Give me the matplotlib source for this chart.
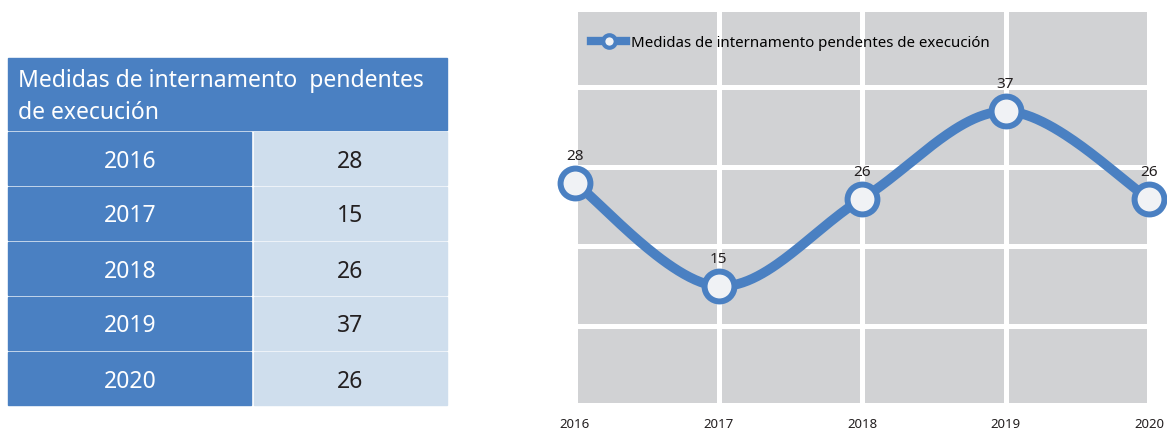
import matplotlib.pyplot as plt
import numpy as np
from matplotlib.lines import Line2D
from matplotlib.patches import Rectangle

years = [2016, 2017, 2018, 2019, 2020]
values = [28, 15, 26, 37, 26]
title = 'Medidas de internamento  pendentes\nde execución'
legend_label = 'Medidas de internamento pendentes de execución'

blue = '#4a80c2'
light = '#cfdeed'
gray = '#d1d2d4'

plt.rcParams['font.family'] = ['Noto Sans', 'DejaVu Sans']

fig = plt.figure(figsize=(11.67, 4.30), dpi=100)

# table on the left, drawn in pixel coordinates
tab = fig.add_axes([0, 0, 1, 1])
tab.set_xlim(0, 1167)
tab.set_ylim(430, 0)
tab.axis('off')
tab.add_patch(Rectangle((8, 58), 439, 72, color=blue))
tab.text(18, 97, title, color='white', fontsize=16.5, va='center', ha='left', linespacing=1.4)
row_h = 55
for i, (yr, v) in enumerate(zip(years, values)):
    y0 = 132 + i * row_h
    tab.add_patch(Rectangle((8, y0), 243, row_h - 2.5, color=blue))
    tab.add_patch(Rectangle((254, y0), 193, row_h - 2.5, color=light))
    tab.text(130, y0 + row_h / 2 + 2, str(yr), color='white', fontsize=16.5, ha='center', va='center')
    tab.text(350, y0 + row_h / 2 + 2, str(v), color='#231f20', fontsize=16.5, ha='center', va='center')

# line chart on the right
ax = fig.add_axes([575 / 1167, 27 / 430, 574 / 1167, 391 / 430])
ax.set_facecolor(gray)
for s in ax.spines.values():
    s.set_visible(False)
ax.set_xlim(years[0], years[-1])
ax.set_ylim(0.3, 49.5)
ax.set_xticks(years)
ax.set_yticks([10, 20, 30, 40])
ax.grid(True, color='white', lw=3.6)
ax.set_axisbelow(True)
ax.tick_params(length=0, labelleft=False, pad=11, labelsize=9.5, labelcolor='#231f20')

# smoothed line (bezier through the points, like a spreadsheet smooth line)
x = np.array(years, dtype=float)
y = np.array(values, dtype=float)
px = np.concatenate([[x[0]], x, [x[-1]]])
py = np.concatenate([[y[0]], y, [y[-1]]])
t = np.linspace(0, 1, 60)
cx, cy = [], []
for i in range(len(x) - 1):
    p0 = np.array([x[i], y[i]])
    p3 = np.array([x[i + 1], y[i + 1]])
    p1 = p0 + (np.array([px[i + 2], py[i + 2]]) - np.array([px[i], py[i]])) / 6
    p2 = p3 - (np.array([px[i + 3], py[i + 3]]) - np.array([px[i + 1], py[i + 1]])) / 6
    b = ((1 - t) ** 3)[:, None] * p0 + (3 * (1 - t) ** 2 * t)[:, None] * p1 \
        + (3 * (1 - t) * t ** 2)[:, None] * p2 + (t ** 3)[:, None] * p3
    cx.extend(b[:, 0])
    cy.extend(b[:, 1])
ax.plot(cx, cy, color=blue, lw=7, solid_capstyle='round', clip_on=False, zorder=3)
ax.plot(x, y, 'o', ms=21.5, mfc='#f0f2f5', mec=blue, mew=4.3, clip_on=False, zorder=4)
for xi, yi in zip(years, values):
    ax.annotate(str(yi), (xi, yi), xytext=(0, 19), textcoords='offset points',
                ha='center', va='center', fontsize=11, color='#231f20', annotation_clip=False)

handle = Line2D([], [], color=blue, lw=6, marker='o', ms=9, mfc='#f0f2f5', mec=blue, mew=3)
ax.legend([handle], [legend_label], loc='upper left', bbox_to_anchor=(0.018, 0.955),
          frameon=False, fontsize=10.8, handlelength=2.3, handletextpad=0.35, borderaxespad=0)

fig.savefig('out.png', dpi=100)
